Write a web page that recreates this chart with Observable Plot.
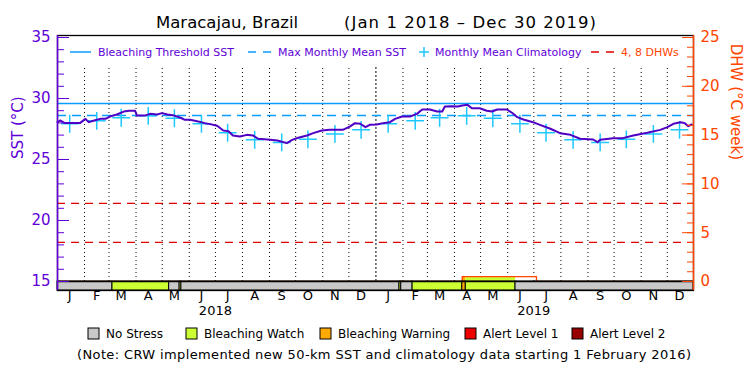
<!DOCTYPE html>
<html><head><meta charset="utf-8">
<script src="https://cdn.jsdelivr.net/npm/d3@7"></script>
<script src="https://cdn.jsdelivr.net/npm/@observablehq/plot@0.6"></script>
<style>body{margin:0;background:#fff} svg{display:block}</style>
</head><body><div id="chart"></div>
<script>
// ---- data ----
const sstDates = ["2018-01-01","2018-01-04","2018-01-09","2018-01-27","2018-02-02","2018-02-06","2018-02-12","2018-02-19","2018-02-25","2018-03-02","2018-03-10","2018-03-18","2018-03-24","2018-03-31","2018-04-02","2018-04-11","2018-04-17","2018-04-25","2018-05-01","2018-05-07","2018-05-15","2018-05-22","2018-05-27","2018-06-02","2018-06-10","2018-06-19","2018-06-25","2018-07-03","2018-07-10","2018-07-16","2018-07-21","2018-07-29","2018-08-06","2018-08-13","2018-08-19","2018-08-30","2018-09-10","2018-09-21","2018-09-27","2018-10-04","2018-10-14","2018-10-21","2018-10-31","2018-11-09","2018-11-24","2018-12-02","2018-12-08","2018-12-14","2018-12-20","2018-12-25","2019-01-02","2019-01-09","2019-01-17","2019-01-23","2019-01-31","2019-02-09","2019-02-17","2019-02-23","2019-03-04","2019-03-12","2019-03-18","2019-03-21","2019-03-29","2019-04-05","2019-04-10","2019-04-16","2019-04-21","2019-04-30","2019-05-08","2019-05-14","2019-05-20","2019-05-31","2019-06-06","2019-06-12","2019-06-19","2019-06-30","2019-07-08","2019-07-20","2019-07-31","2019-08-12","2019-08-23","2019-09-07","2019-09-12","2019-09-15","2019-09-30","2019-10-11","2019-10-23","2019-11-08","2019-11-23","2019-12-01","2019-12-08","2019-12-16","2019-12-21","2019-12-25","2019-12-29"];
const sstValues = [28.05,28.2,28.0,28.0,28.33,28.06,28.2,28.33,28.33,28.52,28.69,28.93,28.99,28.99,28.6,28.6,28.74,28.69,28.8,28.69,28.6,28.42,28.25,28.25,28.14,27.98,27.9,27.76,27.38,27.32,26.97,26.89,27.02,26.97,26.7,26.64,26.56,26.34,26.61,26.78,26.97,27.16,27.38,27.43,27.43,27.7,27.98,27.93,27.65,27.84,27.87,27.98,28.06,28.33,28.52,28.52,28.74,29.1,29.1,28.93,28.93,29.34,29.37,29.34,29.43,29.48,29.2,29.2,29.0,28.93,29.1,29.1,28.83,28.47,28.28,28.06,27.84,27.52,27.16,27.02,26.7,26.64,26.42,26.61,26.75,26.75,26.97,27.19,27.43,27.65,27.93,28.06,27.98,27.73,27.87];

const climYears = [2018, 2019];
const climValues = [27.93,28.17,28.42,28.58,28.38,27.93,27.19,26.61,26.4,26.65,27.1,27.43];

const mmmSST = 28.6;
const thresholdSST = 29.6;
const dhwLevels = [4, 8];

const dhwDates = ["2018-01-01","2019-04-10","2019-07-04","2019-12-31"];
const dhwValues = [0, 0.5, 0, 0];

const alertStarts = ["2018-01-01","2018-03-05","2018-05-09","2018-05-21","2018-05-23","2019-01-28","2019-01-30","2019-02-12","2019-04-10","2019-04-14","2019-06-10"];
const alertEnds   = ["2018-03-05","2018-05-09","2018-05-21","2018-05-23","2019-01-28","2019-01-30","2019-02-12","2019-04-10","2019-04-14","2019-06-10","2019-12-31"];
const alertLevels = [0,1,0,1,0,1,0,1,2,1,0];

const alertNames  = ["No Stress","Bleaching Watch","Bleaching Warning","Alert Level 1","Alert Level 2"];
const alertColors = ["#c8c8c8","#ccff33","#ffaa00","#ee0000","#990000"];
const monthLetters = ["J","F","M","A","M","J","J","A","S","O","N","D"];
const yearLabels = ["2018","2019"];
const sstTicks = [15,20,25,30,35];
const dhwTicks = [0,5,10,15,20,25];

// ---- styling ----
const PURPLE = "#6000d8", LINE = "#5000c4", BLUE = "#0a9dff", CYAN = "#1ec8ff", ORANGE = "#ff4500", RED = "#e00000";
const FONT = "DejaVu Sans";
const toSST = d => 15 + d * 0.8;          // DHW -> SST position
const parse = d3.utcParse("%Y-%m-%d");

const x0 = parse("2018-01-01"), x1 = parse("2019-12-31");
const yBottom = 14.262, yTop = 35.164;

const sstRows = sstDates.map((d, i) => ({date: parse(d), sst: sstValues[i]}));
const climRows = climYears.flatMap(y => climValues.map((v, m) => ({date: new Date(Date.UTC(y, m, 15)), sst: v})));
const dhwRows = dhwDates.map((d, i) => ({date: parse(d), dhw: dhwValues[i]}));
const alertRows = alertStarts.map((s, i) => ({start: parse(s), end: parse(alertEnds[i]), level: alertLevels[i]}));
const dhwAt = t => { let v = 0; for (const r of dhwRows) if (r.date <= t) v = r.dhw; return v; };
const dhwFillRows = alertRows.filter(r => r.level > 0 && dhwAt(r.start) > 0).map(r => ({...r, dhw: dhwAt(r.start)}));
const months = d3.utcMonth.range(x0, x1);
const monthRows = months.map((m, i) => ({date: d3.utcDay.offset(m, 14), label: monthLetters[i % 12]}));
const gridMonths = months.filter(m => m > x0 && m.getUTCMonth() !== 0);
const yearBoundaries = months.filter(m => m > x0 && m.getUTCMonth() === 0);
const yearRows = yearLabels.map(y => ({date: new Date(Date.UTC(+y, 6, 1)), label: y}));

const chart = Plot.plot({
  width: 750, height: 375,
  marginLeft: 57, marginRight: 57, marginTop: 35, marginBottom: 85,
  x: {type: "utc", domain: [x0, x1], axis: null},
  y: {domain: [yBottom, yTop]},
  style: {fontFamily: FONT, background: "white", overflow: "visible"},
  marks: [
    Plot.ruleX(gridMonths, {y1: 15, y2: 32.7, stroke: "black", strokeDasharray: "1,3"}),
    Plot.ruleX(yearBoundaries, {y1: 15, y2: 32.7, stroke: "black", strokeDasharray: "2,2"}),
    Plot.ruleY(dhwLevels, {y: d => toSST(d), stroke: RED, strokeWidth: 1.3, strokeDasharray: "8,6"}),
    Plot.ruleY([mmmSST], {stroke: BLUE, strokeWidth: 1.5, strokeDasharray: "9,6"}),
    Plot.ruleY([thresholdSST], {stroke: BLUE, strokeWidth: 1.5}),
    Plot.dot(climRows, {x: "date", y: "sst", symbol: "plus", r: 5.8, stroke: CYAN, strokeWidth: 1.5}),
    Plot.line(sstRows, {x: "date", y: "sst", stroke: LINE, strokeWidth: 2}),
    Plot.rect(dhwFillRows, {x1: "start", x2: "end", y1: 15, y2: d => toSST(d.dhw), fill: d => alertColors[d.level]}),
    Plot.line(dhwRows, {x: "date", y: d => toSST(d.dhw), curve: "step-after", stroke: ORANGE, strokeWidth: 1.3}),
    Plot.rect(alertRows, {x1: "start", x2: "end", y1: yBottom, y2: 15, fill: d => alertColors[d.level], stroke: "black", strokeWidth: 1}),
    Plot.ruleY([15], {stroke: "black", strokeWidth: 1.3}),
    Plot.frame({stroke: "black", strokeWidth: 1.3}),
    Plot.ruleX([x0], {stroke: PURPLE, strokeWidth: 1.5}),
    Plot.ruleX([x1], {stroke: ORANGE, strokeWidth: 1.5}),
    // left axis (SST)
    Plot.axisY({anchor: "left", ticks: d3.range(15, 36, 1), tickSize: -7, tickFormat: () => "", label: null, color: PURPLE}),
    Plot.axisY({anchor: "left", ticks: sstTicks, tickSize: -12, tickFormat: () => "", label: null, color: PURPLE}),
    Plot.axisY({anchor: "left", ticks: sstTicks, tickSize: 0, tickPadding: 7, label: null, color: PURPLE, fontSize: 15}),
    // right axis (DHW)
    Plot.axisY({anchor: "right", ticks: d3.range(0, 26, 1).map(toSST), tickSize: -7, tickFormat: () => "", label: null, color: ORANGE}),
    Plot.axisY({anchor: "right", ticks: dhwTicks.map(toSST), tickSize: -12, tickFormat: () => "", label: null, color: ORANGE}),
    Plot.axisY({anchor: "right", ticks: dhwTicks.map(toSST), tickSize: 0, tickPadding: 7, label: null, color: ORANGE, fontSize: 15,
      tickFormat: d => String(Math.round((d - 15) * 1.25))}),
    // x labels
    Plot.text(monthRows, {x: "date", frameAnchor: "bottom", dy: 9, text: "label", fontSize: 13, fill: "black"}),
    Plot.text(yearRows, {x: "date", frameAnchor: "bottom", dy: 24, text: "label", fontSize: 13, fill: "black"}),
    // axis titles
    Plot.text(["SST (°C)"], {frameAnchor: "left", dx: -39, dy: -4, rotate: -90, fontSize: 15, fill: PURPLE}),
    Plot.text(["DHW (°C week)"], {frameAnchor: "right", dx: 42, dy: -3, rotate: 90, fontSize: 15, fill: ORANGE})
  ]
});

// ---- title & legends ----
const svg = d3.select(chart);
const g = svg.append("g").attr("font-family", FONT).attr("text-anchor", "start");
const txt = (x, y, size, fill, s) => g.append("text").attr("x", x).attr("y", y).attr("font-size", size).attr("fill", fill).attr("text-anchor", "start").text(s);
txt(156, 28, 16.5, "black", "Maracajau, Brazil");
txt(344, 28, 16.5, "black", "(Jan 1 2018 – Dec 30 2019)").attr("textLength", 252);

// top legend
const ly = 52;
g.append("line").attr("x1", 70).attr("x2", 91).attr("y1", ly).attr("y2", ly).attr("stroke", BLUE).attr("stroke-width", 1.5);
txt(98, ly + 4, 11, PURPLE, "Bleaching Threshold SST");
g.append("line").attr("x1", 248).attr("x2", 272).attr("y1", ly).attr("y2", ly).attr("stroke", BLUE).attr("stroke-width", 1.5).attr("stroke-dasharray", "8,7");
txt(278, ly + 4, 11, PURPLE, "Max Monthly Mean SST");
g.append("path").attr("d", `M${419},${ly}h10M${424},${ly - 5}v10`).attr("stroke", CYAN).attr("stroke-width", 1.5);
txt(435, ly + 4, 11, PURPLE, "Monthly Mean Climatology");
g.append("line").attr("x1", 591).attr("x2", 615).attr("y1", ly).attr("y2", ly).attr("stroke", RED).attr("stroke-width", 1.3).attr("stroke-dasharray", "8,7");
txt(621, ly + 4, 11, ORANGE, "4, 8 DHWs");

// bottom legend
const boxX = [88, 186, 320, 465, 572];
const textX = [106, 204, 338, 483, 590];
alertNames.forEach((n, i) => {
  g.append("rect").attr("x", boxX[i]).attr("y", 328).attr("width", 11).attr("height", 11)
    .attr("fill", alertColors[i]).attr("stroke", "black").attr("stroke-width", 1);
  txt(textX[i], 338, 12, "black", n);
});
g.append("text").attr("x", 384).attr("y", 359).attr("text-anchor", "middle").attr("font-size", 13).attr("fill", "black")
  .attr("textLength", 614).text("(Note: CRW implemented new 50-km SST and climatology data starting 1 February 2016)");

document.getElementById("chart").appendChild(chart);
</script>
</body></html>
